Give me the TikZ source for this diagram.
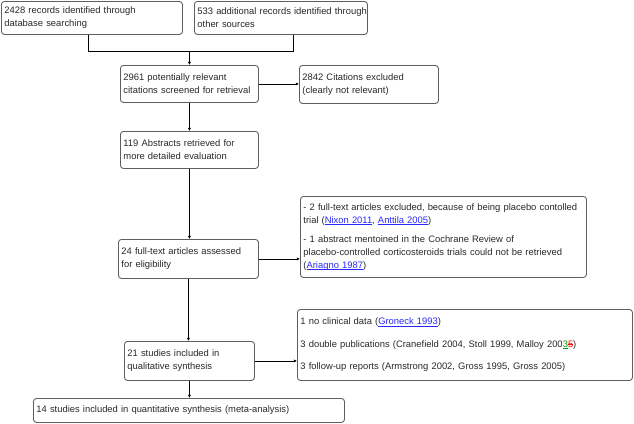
\documentclass[tikz,border=0pt]{standalone}
\usepackage{fontspec}
\setmainfont{Liberation Sans}
\usetikzlibrary{calc,arrows.meta}
\definecolor{linkblue}{RGB}{40,40,255}
\definecolor{boxgray}{RGB}{95,95,95}
\definecolor{txtgray}{RGB}{40,40,40}
\newcommand\ulin[1]{\setbox0\hbox{#1}\rlap{\rule[-1.3pt]{\wd0}{0.5pt}}\box0}
\newcommand\strk[1]{\setbox0\hbox{#1}\rlap{\rule[2.8pt]{\wd0}{0.7pt}}\box0}
\newcommand\lnk[1]{{\color{linkblue}\ulin{#1}}}
\newcommand\tl[1]{\mbox{#1}}
\tikzset{
  pbox/.style={draw=boxgray, line width=0.9pt, rounded corners=3pt,
    anchor=north west, align=left, inner xsep=3pt, inner ysep=2pt,
    text=txtgray, font=\fontsize{9.4}{13}\selectfont},
  conn/.style={draw=black, line width=0.7pt},
  arr/.style={conn, -{Latex[length=3.2pt,width=3.2pt]}}
}
\begin{document}
\begin{tikzpicture}[x=1pt,y=-1pt]
\useasboundingbox (0,0) rectangle (634,423);
\node[pbox, text width=175pt, minimum height=33pt] (b1) at (1,1)
  {\tl{2428 records identified through}\\\tl{database searching}};
\node[pbox, text width=167pt, minimum height=33pt] (b2) at (194,1)
  {\tl{533 additional records identified through}\\\tl{other sources}};
\node[pbox, text width=132pt, minimum height=37pt] (b3) at (120,65)
  {\tl{2961 potentially relevant}\\\tl{citations screened for retrieval}};
\node[pbox, text width=133pt, minimum height=38pt] (bx1) at (299,65)
  {\tl{2842 Citations excluded}\\\tl{(clearly not relevant)}};
\node[pbox, text width=132pt, minimum height=37pt] (b4) at (120,131)
  {\tl{119 Abstracts retrieved for}\\\tl{more detailed evaluation}};
\node[pbox, text width=280pt, minimum height=81pt] (bx2) at (300,196)
  {\tl{- 2 full-text articles excluded, because of being placebo contolled}\\
   \tl{trial (\lnk{Nixon 2011}, \lnk{Anttila 2005})}\\[6pt]
   \tl{- 1 abstract mentoined in the Cochrane Review of}\\
   \tl{placebo-controlled corticosteroids trials could not be retrieved}\\
   \tl{(\lnk{Ariagno 1987})}};
\node[pbox, text width=134pt, minimum height=39pt] (b5) at (118,239)
  {\tl{24 full-text articles assessed}\\\tl{for eligibility}};
\node[pbox, text width=329pt, minimum height=71pt] (bx3) at (297,309)
  {\tl{1 no clinical data (\lnk{Groneck 1993})}\\[9.5pt]
   \tl{3 double publications (Cranefield 2004, Stoll 1999, Malloy 200{\color{green!60!black}\ulin{3}}{\color{red}\strk{5}})}\\[9.5pt]
   \tl{3 follow-up reports (Armstrong 2002, Gross 1995, Gross 2005)}};
\node[pbox, text width=124pt, minimum height=39pt] (b6) at (124,341)
  {\tl{21 studies included in}\\\tl{qualitative synthesis}};
\node[pbox, text width=305pt, minimum height=24pt] (b7) at (33,398)
  {\tl{14 studies included in quantitative synthesis (meta-analysis)}};
% bracket
\coordinate (d1) at ($(b1.south west)+(87,0)$);
\coordinate (d2) at ($(b2.south west)+(99,0)$);
\coordinate (j1) at ($(d1)+(0,16)$);
\coordinate (j2) at (d2 |- j1);
\coordinate (jm) at (j1 -| b3.north);
\draw[conn] (d1) -- (j1) -- (j2) -- (d2);
\draw[arr] (jm) -- (b3.north);
% main flow
\draw[arr] (b3.south) -- (b3.south |- b4.north);
\draw[arr] (b4.south) -- (b4.south |- b5.north);
\draw[arr] (b5.south) -- (b5.south |- b6.north);
\draw[arr] (b6.south) -- (b6.south |- b7.north);
% exclusions
\draw[arr] (b3.east) -- (b3.east -| bx1.west);
\draw[arr] (b5.east) -- (b5.east -| bx2.west);
\draw[arr] (b6.east) -- (b6.east -| bx3.west);
\end{tikzpicture}
\end{document}
